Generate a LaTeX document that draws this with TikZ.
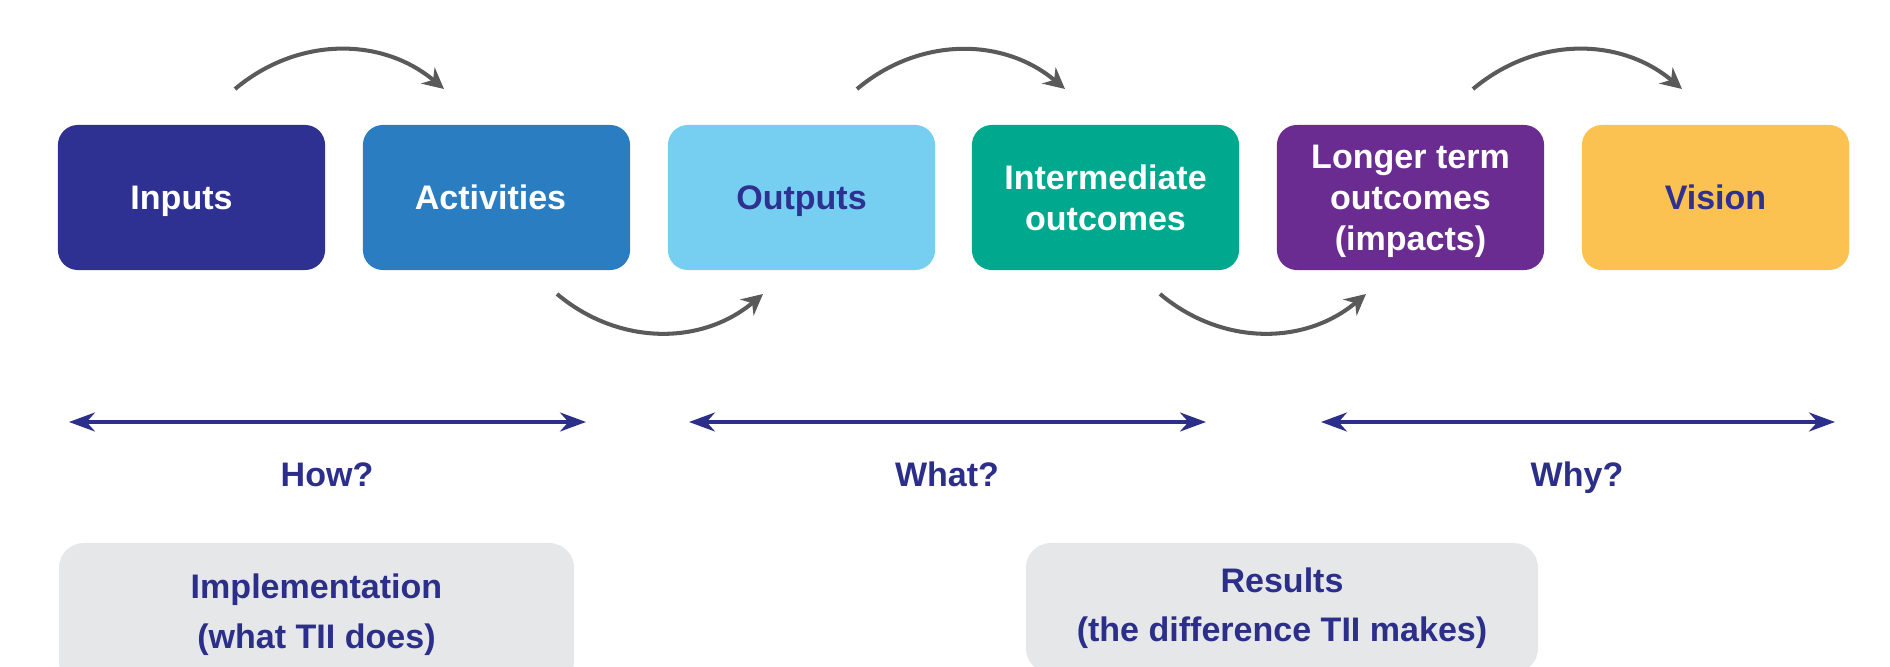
\documentclass[tikz,border=0pt]{standalone}
\usepackage{fontspec}
\setmainfont{Liberation Sans}
\usetikzlibrary{arrows.meta,calc}
\definecolor{cNavy}{RGB}{46,49,146}
\definecolor{cAct}{RGB}{42,125,193}
\definecolor{cOut}{RGB}{118,207,240}
\definecolor{cInt}{RGB}{0,168,142}
\definecolor{cLong}{RGB}{106,44,145}
\definecolor{cVis}{RGB}{251,193,81}
\definecolor{cGrayBox}{RGB}{230,231,232}
\definecolor{cArrow}{RGB}{90,90,90}
\definecolor{cLabel}{RGB}{43,47,138}
\begin{document}
\begin{tikzpicture}[x=0.01cm,y=-0.01cm,
  stage/.style={rounded corners=0.2cm, minimum width=2.67cm, minimum height=1.45cm,
    inner sep=0pt, align=center, font=\fontsize{9.68pt}{11.67pt}\selectfont\bfseries},
  oneline/.style={text depth=0pt},
  flow/.style={draw=cArrow, line width=1.15pt, -{Stealth[length=0.21cm,width=0.21cm]}},
  span/.style={draw=cLabel, line width=1pt,
    {Stealth[length=0.26cm,width=0.19cm]}-{Stealth[length=0.26cm,width=0.19cm]}},
  question/.style={text=cLabel, anchor=base, inner sep=0pt,
    font=\fontsize{9.68pt}{11.67pt}\selectfont\bfseries},
  summary/.style={fill=cGrayBox, rounded corners=0.25cm, text=cLabel, align=center,
    inner sep=0pt, font=\fontsize{9.68pt}{14.08pt}\selectfont\bfseries}
]
\useasboundingbox (0,0) rectangle (1890,667);
\begin{scope}
\clip (0,0) rectangle (1890,667);
% stage boxes
\node[stage, oneline, fill=cNavy, text=white] (inputs) at (191.5,197.5) {\hspace*{-0.2cm}Inputs};
\node[stage, oneline, fill=cAct, text=white] (activities) at (496.5,197.5) {\hspace*{-0.12cm}Activities};
\node[stage, oneline, fill=cOut, text=cNavy] (outputs) at (801.5,197.5) {Outputs};
\node[stage, fill=cInt, text=white] (intermediate) at (1105.5,197.5) {Intermediate\\outcomes};
\node[stage, fill=cLong, text=white] (longer) at (1410.5,197.5)
  {\rule{0pt}{0.31cm}Longer term\\outcomes\\(impacts)};
\node[stage, oneline, fill=cVis, text=cNavy] (vision) at (1715.5,197.5) {Vision};

% curved flow arrows
\coordinate (t1s) at (235,89);   \coordinate (t1e) at (444,89);
\coordinate (t2s) at (857,89);   \coordinate (t2e) at (1065,89);
\coordinate (t3s) at (1473,89);  \coordinate (t3e) at (1682,89);
\coordinate (b1s) at (557,294);  \coordinate (b1e) at (763,294);
\coordinate (b2s) at (1160,294); \coordinate (b2e) at (1366,294);
\draw[flow] (t1s) to[bend left=40] (t1e);
\draw[flow] (t2s) to[bend left=40] (t2e);
\draw[flow] (t3s) to[bend left=40] (t3e);
\draw[flow] (b1s) to[bend right=40] (b1e);
\draw[flow] (b2s) to[bend right=40] (b2e);

% double arrows
\coordinate (h1l) at (69,422);   \coordinate (h1r) at (586,422);
\coordinate (h2l) at (689,422);  \coordinate (h2r) at (1206,422);
\coordinate (h3l) at (1321,422); \coordinate (h3r) at (1835,422);
\draw[span] (h1l) -- (h1r);
\draw[span] (h2l) -- (h2r);
\draw[span] (h3l) -- (h3r);

% questions
\node[question] (how) at (327,486.5) {How?};
\node[question] (what) at (947,486.5) {What?};
\node[question] (why) at (1577,486.5) {Why?};

% summary boxes
\node[summary, minimum width=5.15cm, minimum height=1.43cm] (impl) at (316.5,614.5)
  {Implementation\\(what TII does)};
\node[summary, minimum width=5.12cm, minimum height=1.30cm] (res) at (1282,608)
  {Results\\(the difference TII makes)};
\end{scope}
\end{tikzpicture}
\end{document}
